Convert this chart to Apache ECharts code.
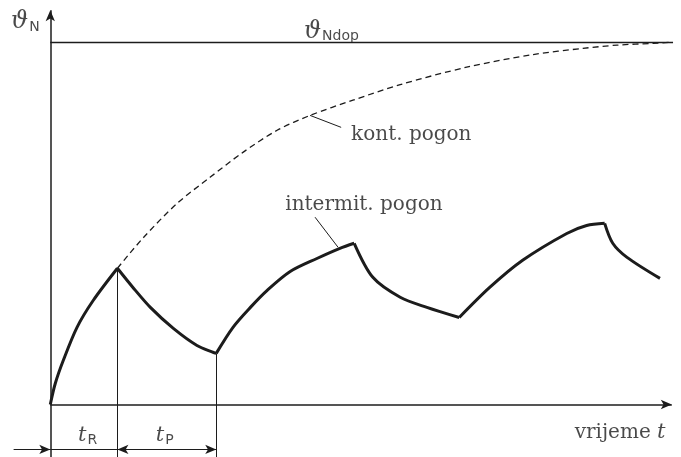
<!DOCTYPE html>
<html>
<head>
<meta charset="utf-8">
<script src="https://cdn.jsdelivr.net/npm/echarts@6/dist/echarts.min.js"></script>
<style>
html, body { margin: 0; padding: 0; background: #fff; }
#chart { width: 681px; height: 457px; }
</style>
</head>
<body>
<div id="chart"></div>
<script>
// intermitentni pogon: grijanje (rad) i hladjenje (pauza), svaki odsjecak posebno
var heat1 = [[0,0],[0.8,5.8],[2.1,12.2],[4.3,21.3],[6.9,28.7],[10.8,37.6]];
var cool1 = [[10.8,37.6],[13.3,32.3],[16.1,26.8],[19.8,21.0],[23.6,16.3],[26.7,14.1]];
var heat2 = [[26.7,14.1],[29.4,21.3],[32.2,26.8],[34.9,31.5],[38.6,36.7],[42.9,40.3],[46.6,43.1],[48.9,44.5]];
var cool2 = [[48.9,44.5],[51.9,35.1],[56.3,29.6],[60.6,26.8],[65.8,24.0]];
var heat3 = [[65.8,24.0],[70.7,32.3],[76.0,39.8],[83.1,47.2],[86.3,49.4],[89.2,50.0]];
var cool3 = [[89.2,50.0],[90.5,44.5],[92.8,40.6],[98.1,34.8]];
// kontinuirani pogon
var kont = [[10.8,37.6],[15.0,46.1],[20.4,55.5],[25.7,62.7],[31.0,69.6],[36.5,75.7],[41.8,79.8],
            [48.7,84.0],[56.3,88.3],[67.0,93.1],[77.7,96.6],[85.7,98.3],[91.2,99.2],[97.0,99.7],[100,100]];
var tempMax = 100;   // dopustena temperatura
var tR = 10.8, tP = 26.7;

var ink = '#1c1c1c';
var serif = 'DejaVu Serif';

function curve(data, width, dashed) {
    return {
        type: 'line', data: data, smooth: 0.3, symbol: 'none', silent: true,
        lineStyle: { color: ink, width: width, type: dashed ? [6, 4] : 'solid' }
    };
}

function seg(a, b, w, s1, s2) {
    return [
        { coord: a, symbol: s1 || 'none' },
        { coord: b, symbol: s2 || 'none', lineStyle: { width: w || 1 } }
    ];
}

var lines = [
    seg([0, -14.5], [0, 108.8], 1.5, 'none', 'arrow'),      // os temperature
    seg([0, 0], [100, 0], 1.5, 'none', 'arrow'),            // vremenska os
    seg([0, tempMax], [100.2, tempMax], 1.3),
    seg([tR, -14.5], [tR, 37.6], 1),
    seg([tP, -14.5], [tP, 14.1], 1),
    seg([-5.9, -12.4], [0, -12.4], 1, 'none', 'arrow'),
    seg([0, -12.4], [tR, -12.4], 1),
    seg([tR, -12.4], [tP, -12.4], 1, 'arrow', 'arrow'),
    seg([41.8, 79.8], [46.8, 76.5], 1),
    seg([42.6, 51.7], [46.3, 43.4], 1)
];

var labels = [
    { value: [-0.9, 105.6], name: 'thN', label: { position: 'left', formatter: '{th|ϑ}{sub|N}' } },
    { value: [40.0, 103.0], name: 'thNdop', label: { position: 'right', formatter: '{th|ϑ}{sub|Ndop}' } },
    { value: [47.6, 74.4], name: 'kont', label: { position: 'right', formatter: 'kont. pogon' } },
    { value: [37.0, 55.0], name: 'int', label: { position: 'right', formatter: 'intermit. pogon' } },
    { value: [99.8, -7.7], name: 'vr', label: { position: 'left', formatter: 'vrijeme {it|t}' } },
    { value: [6.0, -8.6], name: 'tR', label: { position: 'inside', formatter: '{it|t}{sub|R}' } },
    { value: [18.4, -8.6], name: 'tP', label: { position: 'inside', formatter: '{it|t}{sub|P}' } }
];

var chart = echarts.init(document.getElementById('chart'));
chart.setOption({
    animation: false,
    backgroundColor: '#fff',
    grid: { left: 13, right: 3, top: 6, bottom: 0 },
    xAxis: { type: 'value', min: -6, max: 101, show: false },
    yAxis: { type: 'value', min: -14.5, max: 110, show: false },
    series: [
        curve(heat1, 3), curve(cool1, 3), curve(heat2, 3),
        curve(cool2, 3), curve(heat3, 3), curve(cool3, 3),
        curve(kont, 1.3, true),
        {
            type: 'scatter', data: [], silent: true,
            markLine: {
                silent: true, animation: false,
                symbolSize: [7, 11],
                label: { show: false },
                lineStyle: { color: ink, type: 'solid', width: 1 },
                emphasis: { disabled: true },
                data: lines
            }
        },
        {
            type: 'scatter', symbolSize: 0, silent: true, data: labels,
            label: {
                show: true, color: ink, fontFamily: serif, fontSize: 20,
                rich: {
                    th: { fontFamily: serif, fontStyle: 'italic', fontSize: 24, color: ink },
                    sub: { fontFamily: 'DejaVu Sans', fontSize: 14, color: ink, padding: [10, 0, 0, 1] },
                    it: { fontFamily: serif, fontStyle: 'italic', fontSize: 21, color: ink }
                }
            }
        }
    ]
});
</script>
</body>
</html>
